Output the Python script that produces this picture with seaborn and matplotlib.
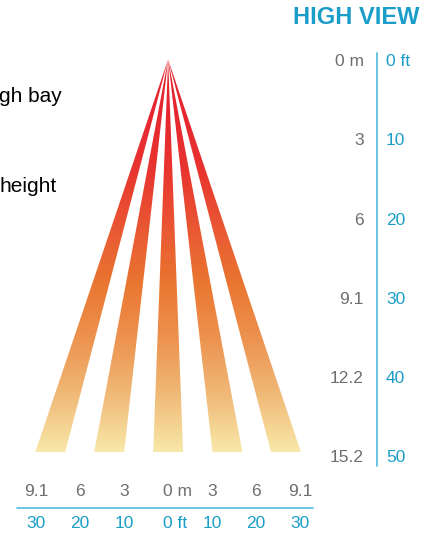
import numpy as np
import matplotlib
matplotlib.use("Agg")
import matplotlib.pyplot as plt
from matplotlib.patches import Polygon
import seaborn as sns

sns.set_theme(style="white")
plt.rcParams['font.family'] = ['Liberation Sans', 'DejaVu Sans']

# beam geometry, in feet
mount_height = 49.3
beam_centers = [-26.8, -13.4, 0.0, 13.5, 26.8]
beam_half_width = 3.4

# axis labels
floor_ft = [-30, -20, -10, 0, 10, 20, 30]
floor_m = ['9.1', '6', '3', '0 m', '3', '6', '9.1']
floor_ft_lbl = ['30', '20', '10', '0 ft', '10', '20', '30']
height_ft = [0, 10, 20, 30, 40, 50]
height_m = ['0 m', '3', '6', '9.1', '12.2', '15.2']
height_ft_lbl = ['0 ft', '10', '20', '30', '40', '50']

# caption fragments visible at the left edge
captions = ['gh bay', 'height']

grey = '#6d6e71'
blue = '#1a9dc8'
line_blue = '#5bc0de'

beam_cmap = sns.blend_palette(['#e5262f', '#e6272f', '#e8352f', '#ea5733',
                               '#e97630', '#ed9350', '#f0ba78', '#f8e8a8'],
                              as_cmap=True)

fig = plt.figure(figsize=(4.26, 5.33), dpi=100)
ax = fig.add_axes([0, 0, 1, 1])

grad = np.linspace(0, 1, 256).reshape(-1, 1)
for c in beam_centers:
    poly = Polygon([(0, -0.3), (c - beam_half_width, mount_height),
                    (c + beam_half_width, mount_height)],
                   closed=True, facecolor='none', edgecolor='none')
    ax.add_patch(poly)
    im = ax.imshow(grad, cmap=beam_cmap, aspect='auto',
                   extent=(-35, 35, mount_height, -0.3),
                   interpolation='bilinear')
    im.set_clip_path(poly)
ax.set_xlim(-38.2, 58.6)
ax.set_ylim(59.5, -7.8)
ax.axis('off')

fs = 12.5
# bottom scale
ax.plot([-34.3, 32.9], [56.3, 56.3], color=line_blue, lw=1.3)
for x, m, f in zip(floor_ft, floor_m, floor_ft_lbl):
    if x == 0:
        ax.text(-1.2, 54.3, m, color=grey, fontsize=fs, ha='left', va='center')
        ax.text(-1.2, 58.3, f, color=blue, fontsize=fs, ha='left', va='center')
    else:
        ax.text(x, 54.3, m, color=grey, fontsize=fs, ha='center', va='center')
        ax.text(x, 58.3, f, color=blue, fontsize=fs, ha='center', va='center')

# right scale
ax.plot([47.5, 47.5], [-1.1, 51.0], color=line_blue, lw=1.3)
for y, m, f in zip(height_ft, height_m, height_ft_lbl):
    ax.text(44.4, y, m, color=grey, fontsize=fs, ha='right', va='center')
    ax.text(49.5, y, f, color=blue, fontsize=fs, ha='left', va='center')

ax.text(57.0, -5.6, 'HIGH VIEW', color=blue, fontsize=17,
        fontweight='bold', ha='right', va='center')

ax.text(-24.1, 4.4, captions[0], color='black', fontsize=15, ha='right', va='center')
ax.text(-25.2, 15.7, captions[1], color='black', fontsize=15, ha='right', va='center')

fig.savefig('out.png', dpi=100)
